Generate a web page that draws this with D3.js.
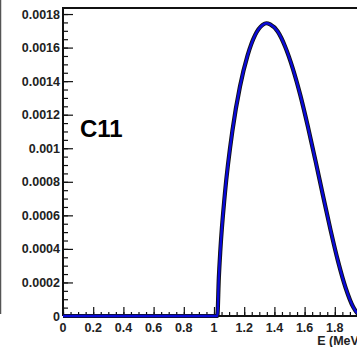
<!DOCTYPE html>
<html>
<head>
<meta charset="utf-8">
<script src="https://cdn.jsdelivr.net/npm/d3@7"></script>
<style>
  html, body { margin: 0; padding: 0; background: #fff; }
  svg { display: block; }
  text { font-family: "Liberation Sans", Arial, sans-serif; font-weight: bold; fill: #222; }
</style>
</head>
<body>
<div id="chart"></div>
<script>
// spectrum: energy (MeV) and counts
const energy = [0, 1.022, 1.032, 1.042, 1.072, 1.122, 1.172, 1.222, 1.272, 1.322, 1.347, 1.372,
    1.422, 1.472, 1.522, 1.572, 1.622, 1.672, 1.722, 1.772, 1.822, 1.872, 1.922, 1.952, 1.982];
const counts = [0, 0, 0.000227, 0.000391, 0.000728, 0.001105, 0.001368, 0.001552, 0.001674, 0.001735, 0.001745, 0.001738,
    0.001696, 0.001604, 0.001475, 0.001315, 0.001128, 0.000926, 0.000717, 0.000512, 0.000324, 0.000167, 0.000053, 0.000014, 0];

const xTicks = [0, 0.2, 0.4, 0.6, 0.8, 1, 1.2, 1.4, 1.6, 1.8, 2];
const xTickLabels = ["0", "0.2", "0.4", "0.6", "0.8", "1", "1.2", "1.4", "1.6", "1.8"];
const yTicks = [0, 0.0002, 0.0004, 0.0006, 0.0008, 0.001, 0.0012, 0.0014, 0.0016, 0.0018];
const yTickLabels = ["0", "0.0002", "0.0004", "0.0006", "0.0008", "0.001", "0.0012", "0.0014", "0.0016", "0.0018"];
const xLabel = "E (MeV)";
const tag = "C11";

const width = 357, height = 347;
const margin = { top: 8, right: -8, bottom: 31, left: 63 };

const svg = d3.select("#chart").append("svg")
    .attr("width", width)
    .attr("height", height);

const x = d3.scaleLinear().domain([0, 2]).range([margin.left, width - margin.right]);
const y = d3.scaleLinear().domain([0, 0.001836]).range([height - margin.bottom, margin.top]);

// neighbouring panel edge on the far left
svg.append("line")
    .attr("x1", 0.5).attr("x2", 0.5)
    .attr("y1", 0).attr("y2", y(0) - 2)
    .attr("stroke", "#555").attr("stroke-width", 1.5);

// frame
svg.append("line")
    .attr("x1", margin.left).attr("x2", width)
    .attr("y1", margin.top).attr("y2", margin.top)
    .attr("stroke", "#111").attr("stroke-width", 2);

// y axis with minor ticks
const yMinor = d3.range(0, 0.00183, 0.00005);
svg.append("g")
    .attr("transform", `translate(${margin.left},0)`)
    .call(d3.axisRight(y).tickValues(yMinor).tickSize(5).tickFormat(""))
    .call(g => g.select(".domain").remove())
    .call(g => g.selectAll("line").attr("stroke", "#111").attr("stroke-width", 1.2));
svg.append("g")
    .attr("transform", `translate(${margin.left},0)`)
    .call(d3.axisRight(y).tickValues(yTicks).tickSize(10).tickFormat(""))
    .call(g => g.select(".domain").remove())
    .call(g => g.selectAll("line").attr("stroke", "#111").attr("stroke-width", 1.2));
svg.append("line")
    .attr("x1", margin.left).attr("x2", margin.left)
    .attr("y1", margin.top - 1).attr("y2", y(0))
    .attr("stroke", "#111").attr("stroke-width", 2);
svg.append("g")
    .selectAll("text")
    .data(yTicks)
    .join("text")
    .attr("x", margin.left - 3)
    .attr("y", d => y(d))
    .attr("dy", "0.36em")
    .attr("text-anchor", "end")
    .attr("font-size", 12.5)
    .text((d, i) => yTickLabels[i]);

// x axis with minor ticks
const xMinor = d3.range(0, 2.001, 0.05);
svg.append("g")
    .attr("transform", `translate(0,${y(0)})`)
    .call(d3.axisTop(x).tickValues(xMinor).tickSize(4).tickFormat(""))
    .call(g => g.select(".domain").remove())
    .call(g => g.selectAll("line").attr("stroke", "#111").attr("stroke-width", 1.2));
svg.append("g")
    .attr("transform", `translate(0,${y(0)})`)
    .call(d3.axisTop(x).tickValues(xTicks).tickSize(9).tickFormat(""))
    .call(g => g.select(".domain").remove())
    .call(g => g.selectAll("line").attr("stroke", "#111").attr("stroke-width", 1.2));
svg.append("line")
    .attr("x1", margin.left).attr("x2", width)
    .attr("y1", y(0)).attr("y2", y(0))
    .attr("stroke", "#111").attr("stroke-width", 2);
svg.append("g")
    .selectAll("text")
    .data(xTickLabels)
    .join("text")
    .attr("x", (d, i) => x(xTicks[i]))
    .attr("y", y(0) + 16)
    .attr("text-anchor", "middle")
    .attr("font-size", 12.5)
    .text(d => d);

svg.append("text")
    .attr("x", x(2) - 2)
    .attr("y", height - 2)
    .attr("text-anchor", "end")
    .attr("font-size", 12.5)
    .text(xLabel);

// curve
const line = d3.line()
    .x((d, i) => x(energy[i]))
    .y(d => y(d))
    .curve(d3.curveMonotoneX);

svg.append("path")
    .datum(counts)
    .attr("fill", "none")
    .attr("stroke", "#111")
    .attr("stroke-width", 4.2)
    .attr("d", line);
svg.append("path")
    .datum(counts)
    .attr("fill", "none")
    .attr("stroke", "#0a0ad8")
    .attr("stroke-width", 2.4)
    .attr("d", line);

svg.append("text")
    .attr("x", 80)
    .attr("y", 137)
    .attr("font-size", 24)
    .style("fill", "#000")
    .text(tag);
</script>
</body>
</html>
